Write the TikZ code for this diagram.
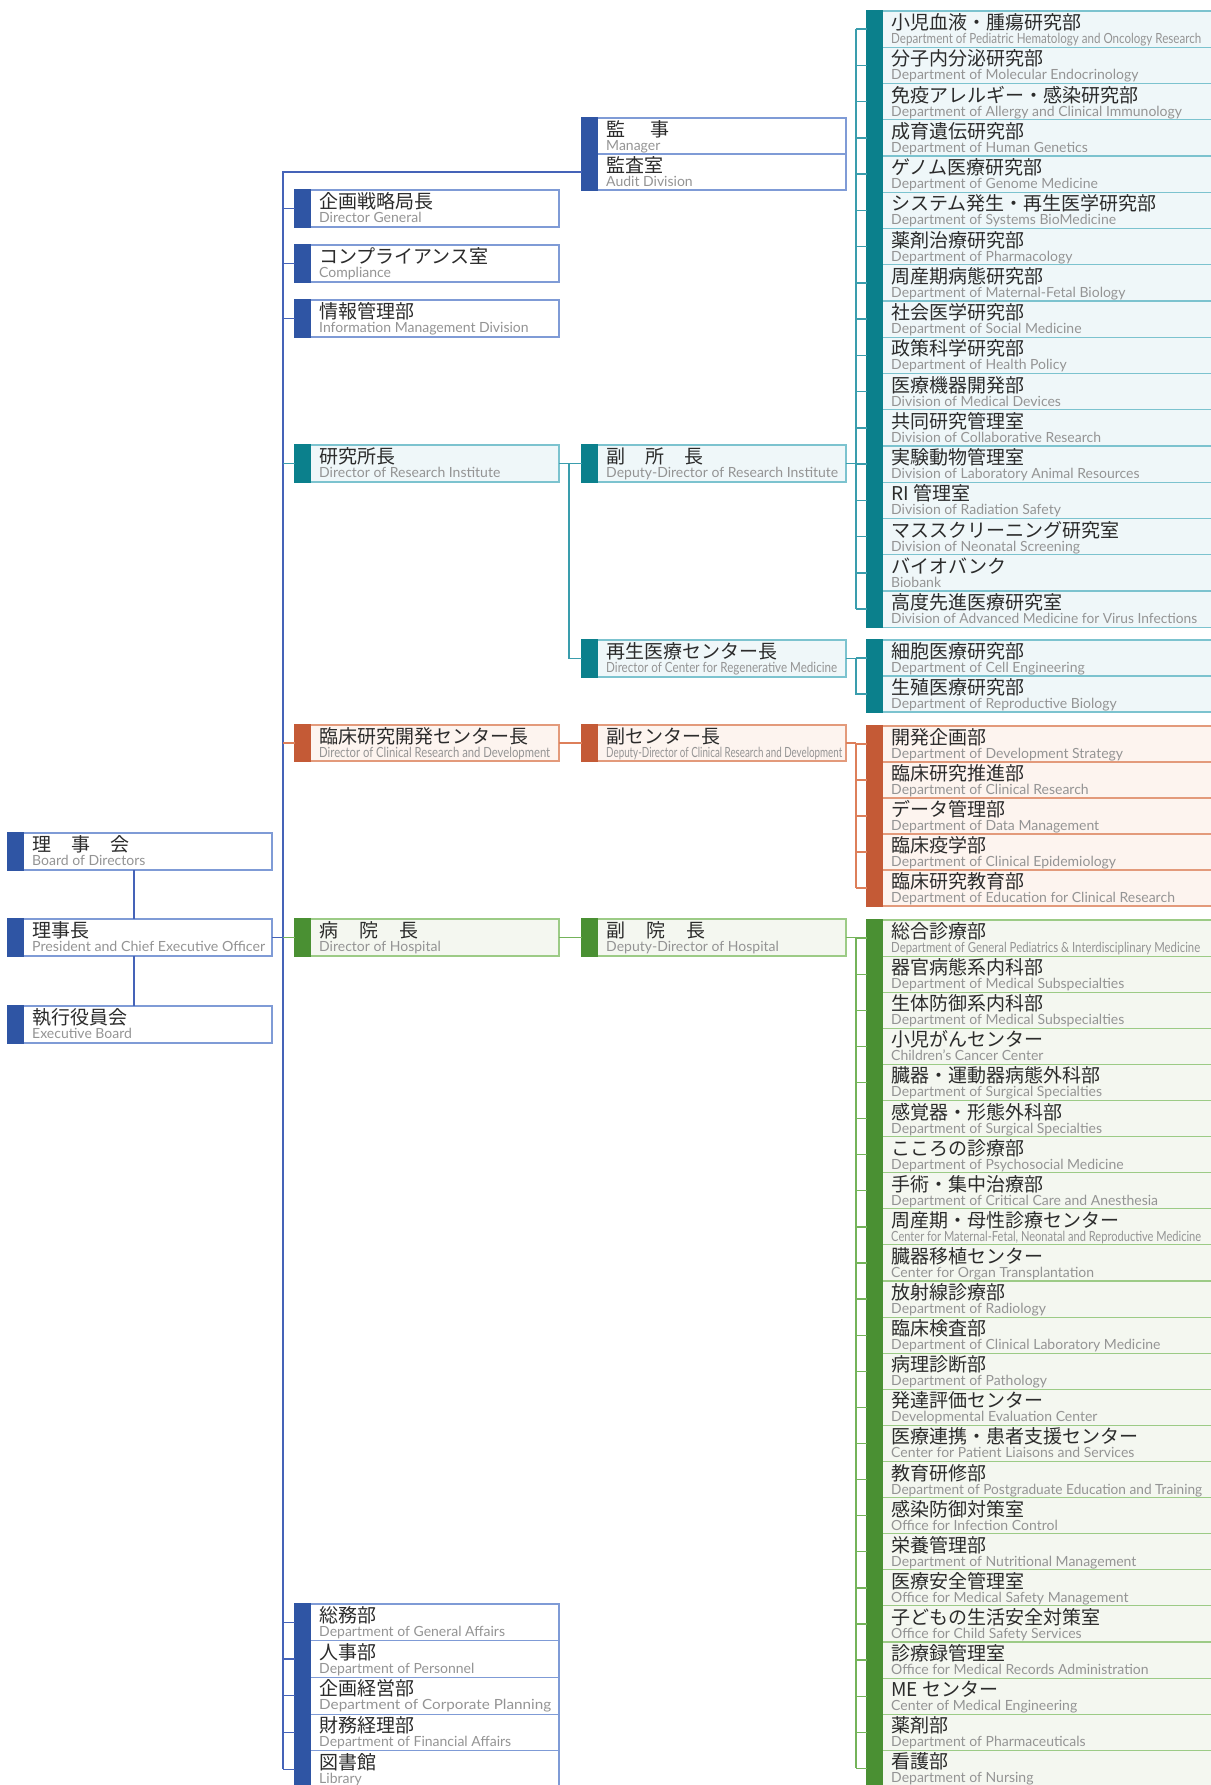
\documentclass[tikz,border=0pt]{standalone}
\usepackage{fontspec}
\setmainfont{Lato}
\newfontfamily\jpf{Noto Sans CJK JP}
\definecolor{bbar}{HTML}{2F55A4}
\definecolor{bborder}{HTML}{7F9BD6}
\definecolor{bfill}{HTML}{FFFFFF}
\definecolor{bline}{HTML}{4563B8}
\definecolor{tbar}{HTML}{0B808C}
\definecolor{tborder}{HTML}{7CC3CF}
\definecolor{tfill}{HTML}{EFF7F9}
\definecolor{tline}{HTML}{3A9DAD}
\definecolor{obar}{HTML}{C45A36}
\definecolor{oborder}{HTML}{E39A7B}
\definecolor{ofill}{HTML}{FDF4EF}
\definecolor{oline}{HTML}{DD7F5A}
\definecolor{gbar}{HTML}{4A9033}
\definecolor{gborder}{HTML}{9CCB86}
\definecolor{gfill}{HTML}{F4F7F0}
\definecolor{gline}{HTML}{74B35A}
\definecolor{jptext}{HTML}{2B2B2B}
\definecolor{entext}{HTML}{949494}
\tikzset{
 orgbox/.style={rectangle, draw, line width=1.1pt, inner sep=0pt, outer sep=0pt, anchor=north west},
 jplabel/.style={inner sep=0pt, anchor=base west, text=jptext, font=\jpf\fontsize{19}{20}\selectfont},
 enlabel/.style={inner sep=0pt, anchor=base west, text=entext, font=\fontsize{14}{15}\selectfont},
 conn/.style={line width=1.3pt},
}
% #1 name, #2 scheme, #3 x, #4 y, #5 width, #6 height, #7 jp, #8 en
\newcommand\ob[8]{%
 \node[orgbox, draw=#2border, fill=#2fill, minimum width=#5pt, minimum height=#6pt] (#1) at (#3,{#4}) {};
 \fill[#2bar] ([shift={(-0.55pt,0.55pt)}]#1.north west) rectangle ([shift={(16pt,-0.55pt)}]#1.south west);
 \node[jplabel] (#1j) at ([shift={(24pt,-18.5pt)}]#1.north west) {#7};
 \node[enlabel] (#1e) at ([shift={(24pt,-32.5pt)}]#1.north west) {#8};
}
\newcommand\fitw[2]{\resizebox{#1pt}{\height}{#2}}
\newcommand\rbox[4]{\ob{#1}{t}{867}{11+#2*36.25}{350}{36.25}{#3}{#4}}
\newcommand\gbox[4]{\ob{#1}{g}{867}{920+#2*36.1}{350}{36.1}{#3}{#4}}
\newcommand\obx[4]{\ob{#1}{o}{867}{726+#2*36}{350}{36}{#3}{#4}}
\newcommand\abox[4]{\ob{#1}{b}{295}{1604+#2*36.7}{264}{36.7}{#3}{#4}}
\begin{document}
\begin{tikzpicture}[x=1pt,y=-1pt]
\useasboundingbox[fill=white] (0,0) rectangle (1210,1785);
% column 1
\ob{rijikai}{b}{8}{833}{264}{37}{理\hspace{20pt}事\hspace{20pt}会}{Board of Directors}
\ob{rijicho}{b}{8}{919}{264}{37}{理事長}{\fitw{233}{President and Chief Executive Officer}}
\ob{shikko}{b}{8}{1006}{264}{37}{執行役員会}{Executive Board}
% column 2
\ob{kikaku}{b}{295}{190}{264}{37}{企画戦略局長}{Director General}
\ob{comp}{b}{295}{245}{264}{37}{コンプライアンス室}{Compliance}
\ob{joho}{b}{295}{300}{264}{37}{情報管理部}{Information Management Division}
\ob{kenkyu}{t}{295}{445}{264}{37}{研究所長}{Director of Research Institute}
\ob{rinsho}{o}{295}{725}{264}{36}{臨床研究開発センター長}{\fitw{231}{Director of Clinical Research and Development}}
\ob{byoin}{g}{295}{919}{264}{37}{病\hspace{21pt}院\hspace{21pt}長}{Director of Hospital}
\abox{a1}{0}{総務部}{Department of General Affairs}
\abox{a2}{1}{人事部}{Department of Personnel}
\abox{a3}{2}{企画経営部}{\fitw{232}{Department of Corporate Planning}}
\abox{a4}{3}{財務経理部}{Department of Financial Affairs}
\abox{a5}{4}{図書館}{Library}
% column 3
\ob{kanji}{b}{582}{118}{264}{36}{監\hspace{25pt}事}{Manager}
\ob{kansa}{b}{582}{154}{264}{36}{監査室}{Audit Division}
\ob{fukuS}{t}{582}{445}{264}{37}{副\hspace{20pt}所\hspace{20pt}長}{\fitw{232}{Deputy-Director of Research Institute}}
\ob{saisei}{t}{582}{640}{264}{37}{再生医療センター長}{\fitw{231}{Director of Center for Regenerative Medicine}}
\ob{fukuC}{o}{582}{725}{264}{36}{副センター長}{\fitw{236}{Deputy-Director of Clinical Research and Development}}
\ob{fukuB}{g}{582}{919}{264}{37}{副\hspace{21pt}院\hspace{21pt}長}{Deputy-Director of Hospital}
% column 4 research
\rbox{r1}{0}{小児血液・腫瘍研究部}{\fitw{310}{Department of Pediatric Hematology and Oncology Research}}
\rbox{r2}{1}{分子内分泌研究部}{Department of Molecular Endocrinology}
\rbox{r3}{2}{免疫アレルギー・感染研究部}{Department of Allergy and Clinical Immunology}
\rbox{r4}{3}{成育遺伝研究部}{Department of Human Genetics}
\rbox{r5}{4}{ゲノム医療研究部}{Department of Genome Medicine}
\rbox{r6}{5}{システム発生・再生医学研究部}{Department of Systems BioMedicine}
\rbox{r7}{6}{薬剤治療研究部}{Department of Pharmacology}
\rbox{r8}{7}{周産期病態研究部}{Department of Maternal-Fetal Biology}
\rbox{r9}{8}{社会医学研究部}{Department of Social Medicine}
\rbox{r10}{9}{政策科学研究部}{Department of Health Policy}
\rbox{r11}{10}{医療機器開発部}{Division of Medical Devices}
\rbox{r12}{11}{共同研究管理室}{Division of Collaborative Research}
\rbox{r13}{12}{実験動物管理室}{Division of Laboratory Animal Resources}
\rbox{r14}{13}{RI 管理室}{Division of Radiation Safety}
\rbox{r15}{14}{マススクリーニング研究室}{Division of Neonatal Screening}
\rbox{r16}{15}{バイオバンク}{Biobank}
\rbox{r17}{16}{高度先進医療研究室}{\fitw{306}{Division of Advanced Medicine for Virus Infections}}
% cell
\ob{c1}{t}{867}{640}{350}{36}{細胞医療研究部}{Department of Cell Engineering}
\ob{c2}{t}{867}{676}{350}{36}{生殖医療研究部}{Department of Reproductive Biology}
% clinical research
\obx{o1}{0}{開発企画部}{Department of Development Strategy}
\obx{o2}{1}{臨床研究推進部}{Department of Clinical Research}
\obx{o3}{2}{データ管理部}{Department of Data Management}
\obx{o4}{3}{臨床疫学部}{Department of Clinical Epidemiology}
\obx{o5}{4}{臨床研究教育部}{Department of Education for Clinical Research}
% hospital
\gbox{g1}{0}{総合診療部}{\fitw{309}{Department of General Pediatrics \& Interdisciplinary Medicine}}
\gbox{g2}{1}{器官病態系内科部}{Department of Medical Subspecialties}
\gbox{g3}{2}{生体防御系内科部}{Department of Medical Subspecialties}
\gbox{g4}{3}{小児がんセンター}{Children's Cancer Center}
\gbox{g5}{4}{臓器・運動器病態外科部}{Department of Surgical Specialties}
\gbox{g6}{5}{感覚器・形態外科部}{Department of Surgical Specialties}
\gbox{g7}{6}{こころの診療部}{Department of Psychosocial Medicine}
\gbox{g8}{7}{手術・集中治療部}{Department of Critical Care and Anesthesia}
\gbox{g9}{8}{周産期・母性診療センター}{\fitw{310}{Center for Maternal-Fetal, Neonatal and Reproductive Medicine}}
\gbox{g10}{9}{臓器移植センター}{Center for Organ Transplantation}
\gbox{g11}{10}{放射線診療部}{Department of Radiology}
\gbox{g12}{11}{臨床検査部}{Department of Clinical Laboratory Medicine}
\gbox{g13}{12}{病理診断部}{Department of Pathology}
\gbox{g14}{13}{発達評価センター}{Developmental Evaluation Center}
\gbox{g15}{14}{医療連携・患者支援センター}{Center for Patient Liaisons and Services}
\gbox{g16}{15}{教育研修部}{\fitw{311}{Department of Postgraduate Education and Training}}
\gbox{g17}{16}{感染防御対策室}{Office for Infection Control}
\gbox{g18}{17}{栄養管理部}{Department of Nutritional Management}
\gbox{g19}{18}{医療安全管理室}{Office for Medical Safety Management}
\gbox{g20}{19}{子どもの生活安全対策室}{Office for Child Safety Services}
\gbox{g21}{20}{診療録管理室}{Office for Medical Records Administration}
\gbox{g22}{21}{ME センター}{Center of Medical Engineering}
\gbox{g23}{22}{薬剤部}{Department of Pharmaceuticals}
\gbox{g24}{23}{看護部}{Department of Nursing}
% ---------------- connectors
\coordinate (mv) at (283,0);
\coordinate (tv) at (569,0);
\coordinate (rv) at (856,0);
% blue main
\draw[conn, bline] ([xshift=-6pt]rijikai.south) -- ([xshift=-6pt]rijicho.north);
\draw[conn, bline] ([xshift=-6pt]rijicho.south) -- ([xshift=-6pt]shikko.north);
\draw[conn, bline] (kansa.west) -| (a5.west -| mv);
\foreach \n in {kikaku,comp,joho,a1,a2,a3,a4,a5}
  \draw[conn, bline] (\n.west -| mv) -- (\n.west);
\draw[conn, bline] (rijicho.east) -- (rijicho.east -| mv);
% research institute
\draw[conn, tline] (kenkyu.west -| mv) -- (kenkyu.west);
\draw[conn, tline] (kenkyu.east) -- (fukuS.west);
\draw[conn, tline] (kenkyu.east -| tv) |- (saisei.west);
\draw[conn, tline] (fukuS.east) -- (fukuS.east -| rv);
\draw[conn, tline] (r1.west -| rv) -- (r17.west -| rv);
\foreach \n in {r1,r2,r3,r4,r5,r6,r7,r8,r9,r10,r11,r12,r13,r14,r15,r16,r17}
  \draw[conn, tline] (\n.west -| rv) -- (\n.west);
\draw[conn, tline] (saisei.east) -- (saisei.east -| rv) |- (c2.west);
\draw[conn, tline] (c1.west -| rv) -- (c1.west);
% clinical research
\draw[conn, oline] (rinsho.west -| mv) -- (rinsho.west);
\draw[conn, oline] (rinsho.east) -- (fukuC.west);
\draw[conn, oline] (fukuC.east) -- (fukuC.east -| rv);
\draw[conn, oline] (o1.west -| rv) -- (o5.west -| rv);
\foreach \n in {o1,o2,o3,o4,o5}
  \draw[conn, oline] (\n.west -| rv) -- (\n.west);
% hospital
\draw[conn, gline] (byoin.west -| mv) -- (byoin.west);
\draw[conn, gline] (byoin.east) -- (fukuB.west);
\draw[conn, gline] (fukuB.east) -- (fukuB.east -| rv);
\draw[conn, gline] (g1.west -| rv) -- (g24.west -| rv);
\foreach \n in {g1,g2,g3,g4,g5,g6,g7,g8,g9,g10,g11,g12,g13,g14,g15,g16,g17,g18,g19,g20,g21,g22,g23,g24}
  \draw[conn, gline] (\n.west -| rv) -- (\n.west);
\end{tikzpicture}
\end{document}
